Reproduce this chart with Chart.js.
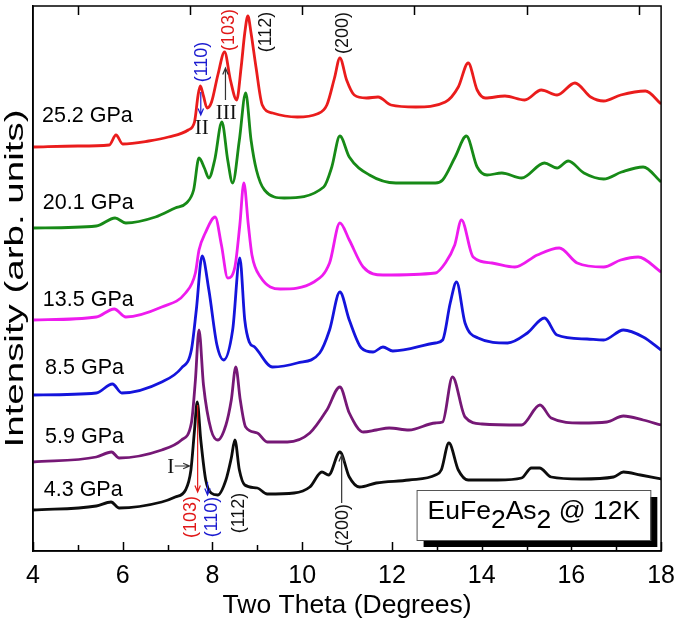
<!DOCTYPE html>
<html>
<head>
<meta charset="utf-8">
<script src="https://cdn.jsdelivr.net/npm/chart.js@4.4.1/dist/chart.umd.min.js"></script>
<style>
  html, body { margin: 0; padding: 0; background: #fff; }
</style>
</head>
<body>
<canvas id="xrdChart" width="685" height="627"></canvas>
<script>
// two theta (deg) and stacked intensity (arb. units) for each pressure
const theta252 = [4.00, 5.00, 5.70, 5.85, 6.00, 6.58, 7.02, 7.46, 7.60, 7.68, 7.73, 7.80, 7.88, 7.98, 8.12, 8.27, 8.40, 8.54, 8.64, 8.72, 8.79, 8.86, 8.97, 9.11, 9.34, 9.89, 10.33, 10.55, 10.72, 10.84, 10.99, 11.16, 11.43, 11.69, 11.98, 12.53, 13.19, 13.48, 13.70, 13.90, 14.08, 14.52, 14.96, 15.33, 15.68, 16.08, 16.43, 16.72, 17.10, 17.65, 18.00];
const int252 = [404, 405, 406, 416, 407, 410, 414, 421, 429, 456, 465, 455, 443, 449, 476, 499, 471, 451, 484, 518, 535, 518, 484, 446, 438, 434, 437, 446, 473, 493, 471, 456, 453, 454, 446, 444, 449, 464, 488, 461, 453, 455, 451, 461, 456, 468, 454, 450, 456, 460, 447];

const theta201 = [4.00, 5.41, 5.83, 6.07, 6.73, 7.17, 7.42, 7.58, 7.70, 7.82, 7.92, 8.05, 8.21, 8.34, 8.45, 8.60, 8.74, 8.86, 8.98, 9.16, 9.60, 10.48, 10.66, 10.84, 11.05, 11.50, 12.09, 12.97, 13.13, 13.41, 13.66, 13.90, 14.12, 14.45, 14.89, 15.40, 15.68, 15.93, 16.28, 16.72, 17.12, 17.60, 18.00];
const int201 = [323, 325, 333, 328, 334, 343, 348, 361, 393, 383, 373, 391, 429, 391, 368, 411, 458, 411, 381, 361, 353, 364, 384, 415, 394, 376, 368, 368, 371, 394, 415, 384, 376, 378, 373, 388, 383, 390, 378, 372, 379, 384, 369];

const theta135 = [4.00, 5.41, 5.81, 6.07, 6.87, 7.40, 7.62, 7.70, 7.84, 8.06, 8.20, 8.34, 8.50, 8.61, 8.70, 8.80, 8.88, 9.07, 9.51, 10.26, 10.61, 10.84, 11.05, 11.36, 11.80, 12.97, 13.19, 13.40, 13.55, 13.81, 14.23, 14.74, 15.24, 15.73, 16.13, 16.72, 17.10, 17.49, 18.00];
const int135 = [231, 234, 242, 234, 244, 258, 278, 301, 318, 334, 306, 273, 284, 326, 368, 326, 296, 274, 262, 269, 288, 328, 311, 284, 276, 278, 288, 306, 331, 294, 288, 284, 296, 303, 288, 284, 291, 294, 279];

const theta85 = [4.00, 5.41, 5.77, 5.98, 6.87, 7.31, 7.53, 7.64, 7.77, 7.92, 8.10, 8.25, 8.45, 8.61, 8.72, 8.82, 8.94, 9.34, 9.89, 10.39, 10.61, 10.84, 11.05, 11.32, 11.58, 11.80, 12.02, 12.97, 13.13, 13.30, 13.44, 13.63, 13.92, 14.58, 15.02, 15.40, 15.68, 16.35, 16.72, 17.16, 17.60, 18.00];
const int85 = [156, 158, 167, 158, 169, 183, 201, 241, 295, 261, 206, 191, 221, 293, 231, 209, 204, 184, 188, 198, 221, 259, 231, 203, 199, 204, 200, 208, 211, 248, 269, 228, 213, 208, 218, 233, 216, 212, 211, 221, 214, 201];

const theta59 = [4.00, 5.41, 5.75, 5.92, 6.87, 7.31, 7.53, 7.62, 7.70, 7.80, 7.97, 8.12, 8.30, 8.42, 8.52, 8.62, 8.74, 9.00, 9.22, 9.67, 10.17, 10.55, 10.84, 11.05, 11.36, 11.65, 11.94, 12.38, 12.97, 13.13, 13.35, 13.63, 14.01, 14.89, 15.30, 15.55, 16.21, 16.79, 17.16, 17.60, 18.00];
const int59 = [89, 94, 99, 93, 101, 111, 128, 171, 221, 166, 121, 111, 126, 151, 184, 151, 124, 118, 109, 109, 118, 141, 164, 138, 119, 121, 123, 121, 128, 129, 174, 134, 127, 126, 146, 133, 128, 129, 135, 131, 126];

const theta43 = [4.00, 5.41, 5.74, 5.92, 6.87, 7.17, 7.40, 7.52, 7.60, 7.66, 7.74, 7.85, 7.97, 8.12, 8.30, 8.42, 8.50, 8.60, 8.72, 9.00, 9.22, 9.82, 10.17, 10.44, 10.59, 10.84, 11.05, 11.28, 11.65, 12.38, 12.97, 13.10, 13.27, 13.48, 13.70, 14.36, 14.89, 15.11, 15.29, 15.55, 16.21, 16.94, 17.16, 17.54, 18.00];
const int43 = [41, 45, 49, 43, 49, 54, 61, 81, 121, 149, 111, 71, 58, 56, 71, 93, 111, 81, 66, 63, 57, 58, 64, 79, 76, 99, 74, 64, 68, 71, 76, 81, 108, 81, 71, 71, 73, 83, 83, 74, 72, 74, 79, 76, 72];

const pressures = ['25.2 GPa', '20.1 GPa', '13.5 GPa', '8.5 GPa', '5.9 GPa', '4.3 GPa'];
const xTicks = [4, 6, 8, 10, 12, 14, 16, 18];

const series = [
  { label: pressures[0], t: theta252, v: int252, color: '#ea1c1c' },
  { label: pressures[1], t: theta201, v: int201, color: '#178a17' },
  { label: pressures[2], t: theta135, v: int135, color: '#ee1bee' },
  { label: pressures[3], t: theta85, v: int85, color: '#1414dc' },
  { label: pressures[4], t: theta59, v: int59, color: '#761876' },
  { label: pressures[5], t: theta43, v: int43, color: '#0d0d0d' }
];

// where the text and arrows sit, in data units (deg, intensity)
const pressureAt = [[4.20, 435], [4.22, 348], [4.22, 251], [4.27, 183], [4.27, 114], [4.24, 61]];
const peakLabels = [
  { text: '(110)', x: 7.76, y: 489, color: '#1a1ad0' },
  { text: '(103)', x: 8.36, y: 521, color: '#e01818' },
  { text: '(112)', x: 9.20, y: 519, color: '#111' },
  { text: '(200)', x: 10.90, y: 518, color: '#111' },
  { text: '(103)', x: 7.52, y: 34, color: '#e01818' },
  { text: '(110)', x: 7.98, y: 34, color: '#1a1ad0' },
  { text: '(112)', x: 8.60, y: 38, color: '#111' },
  { text: '(200)', x: 10.90, y: 26, color: '#111' }
];
const romanLabels = [
  { text: 'II', x: 7.76, y: 423 },
  { text: 'III', x: 8.31, y: 438 },
  { text: 'I', x: 7.07, y: 84 }
];
const arrows = [
  { x1: 7.74, y1: 459, x2: 7.74, y2: 436, color: '#1a1ad0' },
  { x1: 8.29, y1: 451, x2: 8.29, y2: 483, color: '#333' },
  { x1: 7.16, y1: 85, x2: 7.49, y2: 85, color: '#333' },
  { x1: 7.67, y1: 146, x2: 7.67, y2: 59, color: '#e01818' },
  { x1: 7.89, y1: 69, x2: 7.89, y2: 56, color: '#1a1ad0' },
  { x1: 10.88, y1: 48, x2: 10.88, y2: 96, color: '#333' }
];

function drawArrow(ctx, x1, y1, x2, y2, color) {
  const a = Math.atan2(y2 - y1, x2 - x1);
  const h = 7;
  ctx.strokeStyle = color;
  ctx.lineWidth = 1.2;
  ctx.beginPath();
  ctx.moveTo(x1, y1);
  ctx.lineTo(x2, y2);
  ctx.moveTo(x2 - h * Math.cos(a - 0.4), y2 - h * Math.sin(a - 0.4));
  ctx.lineTo(x2, y2);
  ctx.lineTo(x2 - h * Math.cos(a + 0.4), y2 - h * Math.sin(a + 0.4));
  ctx.stroke();
}

const framePlugin = {
  id: 'frame',
  afterDraw(chart) {
    const { ctx, chartArea: ca, scales } = chart;
    const xs = scales.x;
    ctx.save();
    ctx.strokeStyle = '#000';
    ctx.lineWidth = 1.5;
    ctx.strokeRect(ca.left, ca.top, ca.right - ca.left, ca.bottom - ca.top);
    // inward ticks: bottom every degree, top every 2.5
    ctx.beginPath();
    for (let t = 4; t <= 18; t++) {
      const px = Math.round(xs.getPixelForValue(t)) + 0.5;
      const len = t % 2 === 0 ? 9 : 6;
      ctx.moveTo(px, ca.bottom);
      ctx.lineTo(px, ca.bottom - len);
    }
    for (let t = 5; t < 18; t += 2.5) {
      const px = Math.round(xs.getPixelForValue(t)) + 0.5;
      ctx.moveTo(px, ca.top);
      ctx.lineTo(px, ca.top + 9);
    }
    ctx.stroke();

    // y title, drawn here so it can be stretched along its length like the original
    ctx.fillStyle = '#000';
    ctx.font = '26px "Liberation Sans", Arial, sans-serif';
    ctx.textAlign = 'center';
    ctx.textBaseline = 'middle';
    ctx.translate(16, (ca.top + ca.bottom) / 2);
    ctx.rotate(-Math.PI / 2);
    ctx.scale(1.48, 1);
    ctx.fillText('Intensity (arb. units)', 0, 0);
    ctx.restore();
  },
  afterDatasetsDraw(chart) {
    const { ctx, scales } = chart;
    const xs = scales.x, ys = scales.y;
    const X = v => xs.getPixelForValue(v), Y = v => ys.getPixelForValue(v);
    ctx.save();

    ctx.fillStyle = '#000';
    ctx.font = '21.5px "Liberation Sans", Arial, sans-serif';
    ctx.textAlign = 'left';
    ctx.textBaseline = 'middle';
    pressures.forEach((p, i) => ctx.fillText(p, X(pressureAt[i][0]), Y(pressureAt[i][1])));

    ctx.font = '18px "Liberation Sans", Arial, sans-serif';
    ctx.textAlign = 'center';
    peakLabels.forEach(l => {
      ctx.save();
      ctx.translate(X(l.x), Y(l.y));
      ctx.rotate(-Math.PI / 2);
      ctx.fillStyle = l.color;
      ctx.fillText(l.text, 0, 0);
      ctx.restore();
    });

    arrows.forEach(a => drawArrow(ctx, X(a.x1), Y(a.y1), X(a.x2), Y(a.y2), a.color));

    ctx.fillStyle = '#111';
    ctx.font = '21px "Liberation Serif", "Times New Roman", serif';
    romanLabels.forEach(l => ctx.fillText(l.text, X(l.x), Y(l.y)));

    // sample label box with drop shadow
    const bx = X(12.55), by = Y(61), bw = X(17.76) - bx, bh = Y(11) - by;
    ctx.fillStyle = '#000';
    ctx.fillRect(bx + 7, by + 7, bw, bh);
    ctx.fillStyle = '#fff';
    ctx.fillRect(bx, by, bw, bh);
    ctx.strokeStyle = '#555';
    ctx.lineWidth = 1;
    ctx.strokeRect(bx + 0.5, by + 0.5, bw, bh);

    ctx.fillStyle = '#000';
    ctx.font = '26.5px "Liberation Sans", Arial, sans-serif';
    ctx.textAlign = 'left';
    ctx.textBaseline = 'alphabetic';
    let tx = bx + 11;
    const base = by + 29, sub = base + 9;
    [['EuFe', base], ['2', sub], ['As', base], ['2', sub], [' @ 12K', base]].forEach(([s, yy]) => {
      ctx.fillText(s, tx, yy);
      tx += ctx.measureText(s).width;
    });
    ctx.restore();
  }
};

new Chart(document.getElementById('xrdChart'), {
  type: 'line',
  data: {
    datasets: series.map(s => ({
      label: s.label,
      data: s.t.map((t, i) => ({ x: t, y: s.v[i] })),
      borderColor: s.color,
      borderWidth: 2.8,
      pointRadius: 0,
      fill: false,
      cubicInterpolationMode: 'monotone'
    }))
  },
  options: {
    responsive: false,
    animation: false,
    layout: { padding: { top: 6, right: 19, left: 0, bottom: 0 } },
    plugins: { legend: { display: false }, tooltip: { enabled: false } },
    scales: {
      x: {
        type: 'linear',
        min: 4,
        max: 18,
        afterBuildTicks: s => { s.ticks = xTicks.map(v => ({ value: v })); },
        afterFit: s => { s.height = 76; },
        ticks: { color: '#000', font: { size: 25, family: '"Liberation Sans", Arial, sans-serif' }, padding: 10, maxRotation: 0 },
        grid: { drawOnChartArea: false, drawTicks: false },
        border: { color: '#000', width: 1.5 },
        title: {
          display: true,
          text: 'Two Theta (Degrees)',
          color: '#000',
          font: { size: 26.5, family: '"Liberation Sans", Arial, sans-serif' },
          padding: { top: 0, bottom: 5 }
        }
      },
      y: {
        min: 0,
        max: 545,
        afterFit: s => { s.width = 33; },
        ticks: { display: false },
        grid: { drawOnChartArea: false, drawTicks: false },
        border: { color: '#000', width: 1.5 },
        title: { display: false }
      }
    }
  },
  plugins: [framePlugin]
});
</script>
</body>
</html>
